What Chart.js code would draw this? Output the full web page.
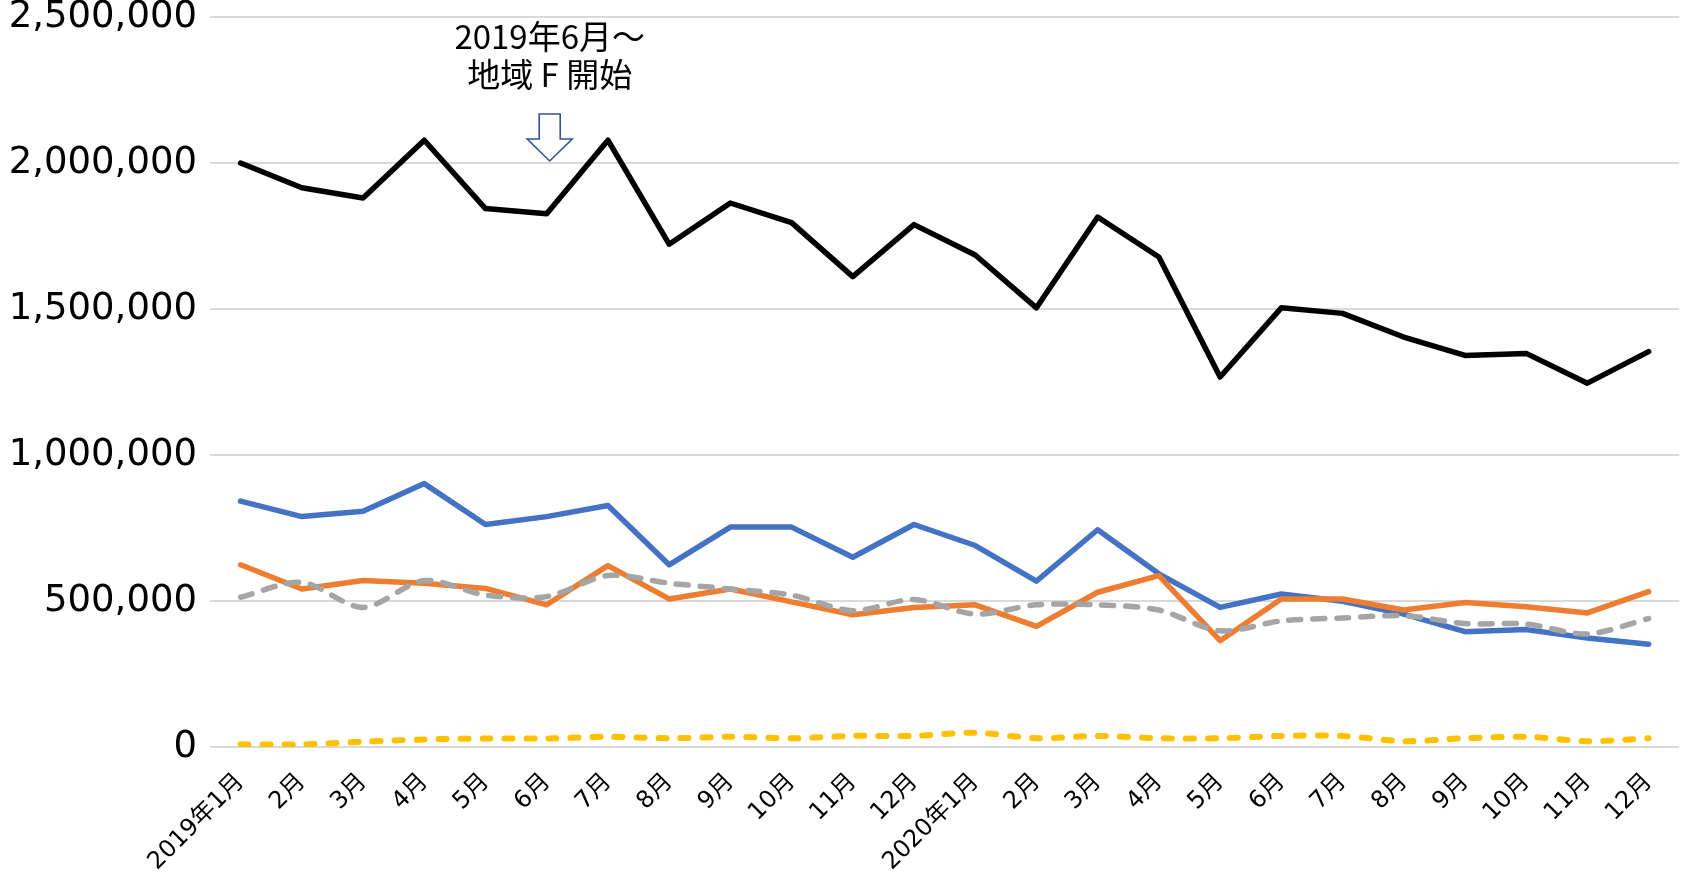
<!DOCTYPE html>
<html>
<head>
<meta charset="utf-8">
<script src="https://cdn.jsdelivr.net/npm/chart.js@4.4.1/dist/chart.umd.min.js"></script>
<style>
  body { margin: 0; background: #fff; }
  #wrap { width: 1690px; height: 873px; }
</style>
</head>
<body>
<div id="wrap"><canvas id="chart" width="1690" height="873"></canvas></div>
<script>
// categories
const months = [
    "2019年1月", "2月", "3月", "4月", "5月", "6月", "7月", "8月", "9月", "10月", "11月", "12月",
    "2020年1月", "2月", "3月", "4月", "5月", "6月", "7月", "8月", "9月", "10月", "11月", "12月"
];

// series values
const totalValues = [
    2000000, 1915000, 1880000, 2078000, 1844000, 1826000, 2078000, 1722000, 1863000, 1796000, 1611000, 1789000,
    1685000, 1504000, 1815000, 1678000, 1267000, 1504000, 1485000, 1404000, 1341000, 1348000, 1246000, 1354000
];
const blueValues = [
    842000, 789000, 807000, 902000, 762000, 789000, 827000, 624000, 753000, 753000, 650000, 762000,
    690000, 568000, 744000, 593000, 478000, 524000, 499000, 455000, 395000, 402000, 373000, 352000
];
const orangeValues = [
    624000, 541000, 570000, 561000, 543000, 487000, 621000, 507000, 541000, 497000, 453000, 478000,
    487000, 413000, 530000, 587000, 364000, 507000, 507000, 469000, 495000, 480000, 459000, 532000
];
const grayValues = [
    513000, 564000, 478000, 570000, 520000, 515000, 587000, 561000, 541000, 520000, 467000, 505000,
    455000, 487000, 487000, 469000, 398000, 432000, 442000, 450000, 423000, 421000, 387000, 440000
];
const yellowValues = [
    9000, 9000, 18000, 26000, 29000, 29000, 35000, 30000, 35000, 30000, 38000, 38000,
    49000, 30000, 38000, 30000, 30000, 38000, 38000, 20000, 30000, 35000, 20000, 30000
];

// y axis ticks
const yMax = 2500000;
const yStep = 500000;

// annotation
const noteIndex = 5;
const noteLines = ["2019年6月～", "地域 F 開始"];

// hollow down arrow + note above 2019/6
const notePlugin = {
    id: "note",
    afterDraw(chart) {
        const ctx = chart.ctx;
        const cx = chart.scales.x.getPixelForValue(noteIndex) + 3;

        ctx.save();
        ctx.fillStyle = "#000";
        ctx.font = "33px 'Noto Sans CJK JP'";
        ctx.textAlign = "center";
        ctx.textBaseline = "middle";
        ctx.fillText(noteLines[0], cx, 36);
        ctx.fillText(noteLines[1], cx, 74);

        const top = 114, neck = 139, tip = 161;
        ctx.beginPath();
        ctx.moveTo(cx - 10.5, top);
        ctx.lineTo(cx + 10.5, top);
        ctx.lineTo(cx + 10.5, neck);
        ctx.lineTo(cx + 22.5, neck);
        ctx.lineTo(cx, tip);
        ctx.lineTo(cx - 22.5, neck);
        ctx.lineTo(cx - 10.5, neck);
        ctx.closePath();
        ctx.fillStyle = "#fff";
        ctx.fill();
        ctx.strokeStyle = "#2F5597";
        ctx.lineWidth = 1.6;
        ctx.stroke();
        ctx.restore();
    }
};

function line(data, color, width, order, extra) {
    return Object.assign({
        data: data,
        borderColor: color,
        backgroundColor: color,
        borderWidth: width,
        pointRadius: 0,
        tension: 0,
        borderCapStyle: "round",
        borderJoinStyle: "round",
        order: order
    }, extra || {});
}

new Chart(document.getElementById("chart"), {
    type: "line",
    data: {
        labels: months,
        datasets: [
            line(totalValues, "#000000", 5.5, 0),
            line(yellowValues, "#FFC000", 6, 1, { borderDash: [8, 14], tension: 0.3 }),
            line(grayValues, "#A5A5A5", 5.5, 2, { borderDash: [12, 12], tension: 0.3 }),
            line(orangeValues, "#ED7D31", 5.5, 3),
            line(blueValues, "#4472C4", 5.5, 4)
        ]
    },
    options: {
        responsive: false,
        animation: false,
        layout: { padding: { left: 0, right: 1, top: 0, bottom: 0 } },
        plugins: {
            legend: { display: false },
            tooltip: { enabled: false }
        },
        scales: {
            x: {
                offset: true,
                grid: { display: false, drawTicks: false },
                border: { display: false },
                ticks: {
                    color: "#000",
                    font: { family: "'DejaVu Sans', 'Noto Sans CJK JP'", size: 24 },
                    minRotation: 45,
                    maxRotation: 45,
                    autoSkip: false,
                    padding: 21
                },
                afterFit(scale) { scale.height = 126; }
            },
            y: {
                min: 0,
                max: yMax,
                grid: { color: "#D9D9D9", lineWidth: 2, drawTicks: false },
                border: { display: false },
                ticks: {
                    stepSize: yStep,
                    color: "#000",
                    padding: 13,
                    font: { family: "'DejaVu Sans'", size: 37, lineHeight: 1 },
                    callback: (v) => v.toLocaleString("en-US")
                },
                afterFit(scale) {
                    scale.width = 210;
                    scale.paddingTop = 17;
                    scale.paddingBottom = 0;
                }
            }
        }
    },
    plugins: [notePlugin]
});
</script>
</body>
</html>
